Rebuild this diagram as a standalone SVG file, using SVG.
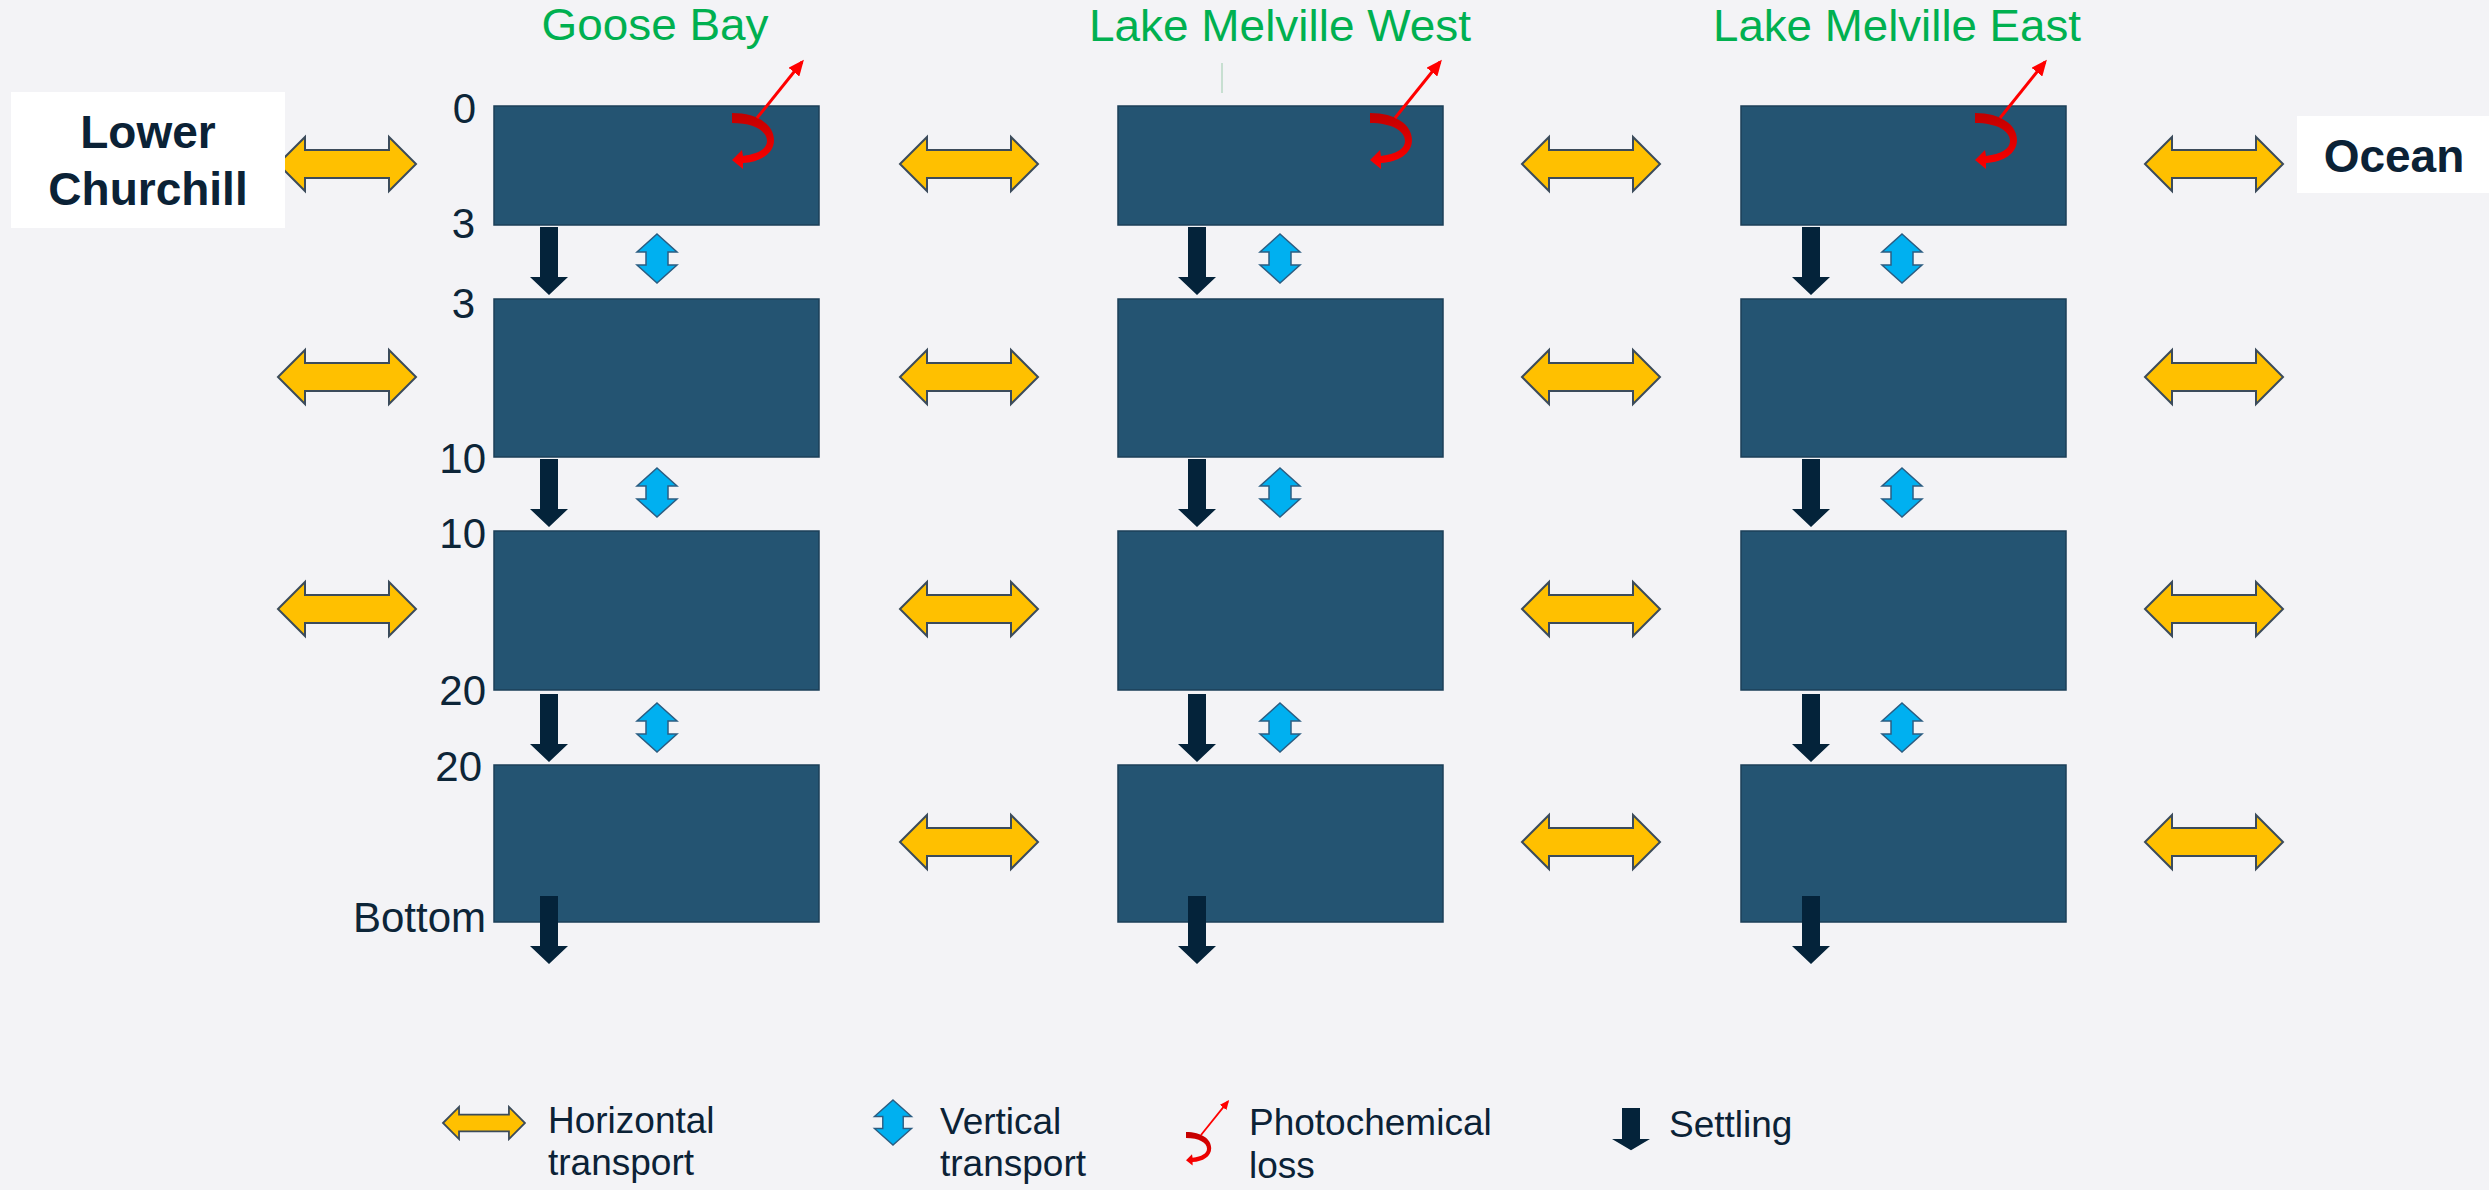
<svg xmlns="http://www.w3.org/2000/svg" xmlns:xlink="http://www.w3.org/1999/xlink" width="2489" height="1190" viewBox="0 0 2489 1190">
  <style>
    .bg { fill: #f3f3f6; }
    .box { fill: #245472; stroke: #1b3f58; stroke-width: 1.5; }
    .ext { fill: #ffffff; }
    .ext-label { font-family: "Liberation Sans", Arial, sans-serif; font-weight: bold; font-size: 46px; fill: #0b2236; text-anchor: middle; }
    .title { font-family: "Liberation Sans", Arial, sans-serif; font-size: 44px; fill: #00b050; text-anchor: middle; }
    .depth { font-family: "Liberation Sans", Arial, sans-serif; font-size: 42px; fill: #0d2538; text-anchor: end; }
    .legend { font-family: "Liberation Sans", Arial, sans-serif; font-size: 37px; fill: #0b2236; }
    .htrans { fill: #ffc000; stroke: #3b4b5b; stroke-width: 2; stroke-linejoin: miter; }
    .vtrans { fill: #00b0f0; stroke: #2b5d82; stroke-width: 1.5; }
    .settle { fill: #04233a; }
    .ray { stroke: #ff0000; stroke-width: 3; fill: none; }
  </style>
  <defs>
    <!-- horizontal transport: double arrow, origin at left tip -->
    <path id="h-arrow" d="M0,0 L27,-27 L27,-14 L111,-14 L111,-27 L138,0 L111,27 L111,14 L27,14 L27,27 Z"/>
    <!-- vertical transport: double arrow, origin at top tip -->
    <path id="v-arrow" d="M0,0 L20,18 L11,18 L11,31 L20,31 L0,49 L-20,31 L-11,31 L-11,18 L-20,18 Z"/>
    <!-- settling: block arrow pointing down, origin at top centre -->
    <path id="s-arrow" d="M-9,0 L9,0 L9,50 L19,50 L0,68 L-19,50 L-9,50 Z"/>
    <linearGradient id="curl-grad" x1="0" y1="0" x2="0" y2="1">
      <stop offset="0" stop-color="#c00000"/>
      <stop offset="1" stop-color="#ff0000"/>
    </linearGradient>
    <marker id="ray-head" markerUnits="userSpaceOnUse" markerWidth="16" markerHeight="14" refX="13" refY="7" orient="auto">
      <path d="M0,0 L16,7 L0,14 Z" fill="#ff0000"/>
    </marker>
    <!-- photochemical loss: curled arrow plus escaping ray, origin at curl start -->
    <g id="photo">
      <path d="M0,0 C26,0 42,12 42,27 C42,41 28,49 11,50 L11,56 L0,47 L10,37 L11,43 C26,41 35,36 35,28 C35,18 22,10 0,10 Z" fill="url(#curl-grad)"/>
      <line class="ray" x1="25" y1="5" x2="70" y2="-51" marker-end="url(#ray-head)"/>
    </g>
  </defs>

  <rect class="bg" x="0" y="0" width="2489" height="1190"/>

  <!-- column titles -->
  <g id="titles">
    <text class="title" x="655" y="40" textLength="227" lengthAdjust="spacingAndGlyphs">Goose Bay</text>
    <text class="title" x="1280" y="41" textLength="382" lengthAdjust="spacingAndGlyphs">Lake Melville West</text>
    <text class="title" x="1897" y="41" textLength="368" lengthAdjust="spacingAndGlyphs">Lake Melville East</text>
    <line x1="1222" y1="63" x2="1222" y2="93" stroke="#b9d8c4" stroke-width="1.5"/>
  </g>

  <!-- depth labels (m) -->
  <g id="depths">
    <text class="depth" x="476" y="123">0</text>
    <text class="depth" x="475" y="238">3</text>
    <text class="depth" x="475" y="318">3</text>
    <text class="depth" x="486" y="473">10</text>
    <text class="depth" x="486" y="548">10</text>
    <text class="depth" x="486" y="705">20</text>
    <text class="depth" x="482" y="781">20</text>
    <text class="depth" x="486" y="932">Bottom</text>
  </g>

  <!-- Goose Bay layers -->
  <g id="gb-0-3"><rect class="box" x="494" y="106" width="325" height="119"/></g>
  <g id="gb-3-10"><rect class="box" x="494" y="299" width="325" height="158"/></g>
  <g id="gb-10-20"><rect class="box" x="494" y="531" width="325" height="159"/></g>
  <g id="gb-20-bottom"><rect class="box" x="494" y="765" width="325" height="157"/></g>

  <!-- Lake Melville West layers -->
  <g id="lmw-0-3"><rect class="box" x="1118" y="106" width="325" height="119"/></g>
  <g id="lmw-3-10"><rect class="box" x="1118" y="299" width="325" height="158"/></g>
  <g id="lmw-10-20"><rect class="box" x="1118" y="531" width="325" height="159"/></g>
  <g id="lmw-20-bottom"><rect class="box" x="1118" y="765" width="325" height="157"/></g>

  <!-- Lake Melville East layers -->
  <g id="lme-0-3"><rect class="box" x="1741" y="106" width="325" height="119"/></g>
  <g id="lme-3-10"><rect class="box" x="1741" y="299" width="325" height="158"/></g>
  <g id="lme-10-20"><rect class="box" x="1741" y="531" width="325" height="159"/></g>
  <g id="lme-20-bottom"><rect class="box" x="1741" y="765" width="325" height="157"/></g>

  <g id="connectors">
    <!-- horizontal exchange between neighbouring segments -->
    <g class="htrans">
      <use xlink:href="#h-arrow" x="278" y="164"/>
      <use xlink:href="#h-arrow" x="900" y="164"/>
      <use xlink:href="#h-arrow" x="1522" y="164"/>
      <use xlink:href="#h-arrow" x="2145" y="164"/>
      <use xlink:href="#h-arrow" x="278" y="377"/>
      <use xlink:href="#h-arrow" x="900" y="377"/>
      <use xlink:href="#h-arrow" x="1522" y="377"/>
      <use xlink:href="#h-arrow" x="2145" y="377"/>
      <use xlink:href="#h-arrow" x="278" y="609"/>
      <use xlink:href="#h-arrow" x="900" y="609"/>
      <use xlink:href="#h-arrow" x="1522" y="609"/>
      <use xlink:href="#h-arrow" x="2145" y="609"/>
      <use xlink:href="#h-arrow" x="900" y="842"/>
      <use xlink:href="#h-arrow" x="1522" y="842"/>
      <use xlink:href="#h-arrow" x="2145" y="842"/>
    </g>

    <!-- vertical mixing between layers -->
    <g class="vtrans">
      <use xlink:href="#v-arrow" x="657" y="234"/>
      <use xlink:href="#v-arrow" x="657" y="468"/>
      <use xlink:href="#v-arrow" x="657" y="703"/>
      <use xlink:href="#v-arrow" x="1280" y="234"/>
      <use xlink:href="#v-arrow" x="1280" y="468"/>
      <use xlink:href="#v-arrow" x="1280" y="703"/>
      <use xlink:href="#v-arrow" x="1902" y="234"/>
      <use xlink:href="#v-arrow" x="1902" y="468"/>
      <use xlink:href="#v-arrow" x="1902" y="703"/>
    </g>

    <!-- settling -->
    <g class="settle">
      <use xlink:href="#s-arrow" x="549" y="227"/>
      <use xlink:href="#s-arrow" x="549" y="459"/>
      <use xlink:href="#s-arrow" x="549" y="694"/>
      <use xlink:href="#s-arrow" x="549" y="896"/>
      <use xlink:href="#s-arrow" x="1197" y="227"/>
      <use xlink:href="#s-arrow" x="1197" y="459"/>
      <use xlink:href="#s-arrow" x="1197" y="694"/>
      <use xlink:href="#s-arrow" x="1197" y="896"/>
      <use xlink:href="#s-arrow" x="1811" y="227"/>
      <use xlink:href="#s-arrow" x="1811" y="459"/>
      <use xlink:href="#s-arrow" x="1811" y="694"/>
      <use xlink:href="#s-arrow" x="1811" y="896"/>
    </g>

    <!-- photochemical loss at the surface -->
    <use xlink:href="#photo" x="732" y="113"/>
    <use xlink:href="#photo" x="1370" y="113"/>
    <use xlink:href="#photo" x="1975" y="113"/>
  </g>

  <!-- external boundaries (drawn over the outer arrow tips) -->
  <g id="lower-churchill">
    <rect class="ext" x="11" y="92" width="274" height="136"/>
    <text class="ext-label" x="148" y="148">Lower</text>
    <text class="ext-label" x="148" y="205">Churchill</text>
  </g>
  <g id="ocean">
    <rect class="ext" x="2297" y="116" width="192" height="77"/>
    <text class="ext-label" x="2394" y="172">Ocean</text>
  </g>

  <!-- legend -->
  <g id="legend">
    <g transform="translate(443,1123) scale(0.594,0.593)" class="htrans">
      <use xlink:href="#h-arrow" style="stroke-width:3"/>
    </g>
    <text class="legend" x="548" y="1133">Horizontal</text>
    <text class="legend" x="548" y="1175">transport</text>

    <g transform="translate(893,1100) scale(0.93,0.92)" class="vtrans">
      <use xlink:href="#v-arrow"/>
    </g>
    <text class="legend" x="940" y="1134">Vertical</text>
    <text class="legend" x="940" y="1176">transport</text>

    <use xlink:href="#photo" transform="translate(1186,1132) scale(0.6)"/>
    <text class="legend" x="1249" y="1135">Photochemical</text>
    <text class="legend" x="1249" y="1178">loss</text>

    <g transform="translate(1631,1108) scale(1.0,0.62)" class="settle">
      <use xlink:href="#s-arrow"/>
    </g>
    <text class="legend" x="1669" y="1137">Settling</text>
  </g>
</svg>
